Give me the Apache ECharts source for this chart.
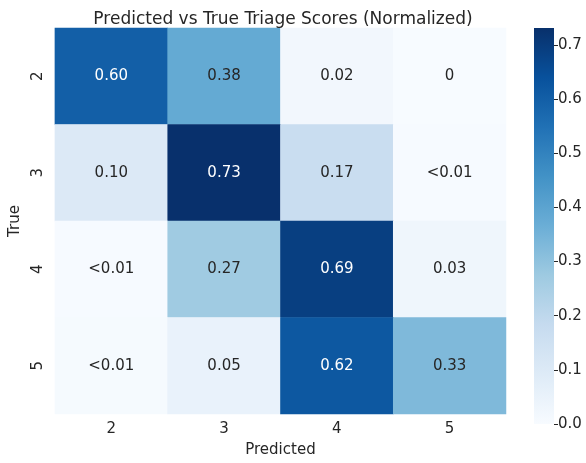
<!DOCTYPE html>
<html>
<head>
<meta charset="utf-8">
<script src="https://cdn.jsdelivr.net/npm/echarts@6/dist/echarts.min.js"></script>
<style>
html, body { margin: 0; padding: 0; background: #fff; }
#main { width: 586px; height: 463px; }
</style>
</head>
<body>
<div id="main"></div>
<script>
// categories
var predicted = ['2', '3', '4', '5'];
var trueScores = ['2', '3', '4', '5'];

// normalized rows (one per true score), columns = predicted score
var row2 = [0.60, 0.38, 0.02, 0];
var row3 = [0.10, 0.73, 0.17, 0.004];
var row4 = [0.004, 0.27, 0.69, 0.03];
var row5 = [0.006, 0.05, 0.62, 0.33];
var rows = [row2, row3, row4, row5];

// colorbar
var colorbarTicks = [0, 0.1, 0.2, 0.3, 0.4, 0.5, 0.6, 0.7];
var vmax = 0.731;

var blues = ['#f7fbff', '#deebf7', '#c6dbef', '#9ecae1', '#6baed6',
             '#4292c6', '#2171b5', '#08519c', '#08306b'];
var textColor = '#262626';
var font = 'DejaVu Sans';

var cells = [];
rows.forEach(function (row, r) {
    row.forEach(function (v, c) {
        cells.push([c, r, v]);
    });
});

function fmt(v) {
    if (v === 0) return '0';
    if (v < 0.01) return '<0.01';
    return v.toFixed(2);
}

var myChart = echarts.init(document.getElementById('main'));

var option = {
    animation: false,
    textStyle: { fontFamily: font },
    title: {
        text: 'Predicted vs True Triage Scores (Normalized)',
        left: 278,
        textAlign: 'center',
        top: 6,
        textStyle: { fontFamily: font, fontSize: 17, fontWeight: 'normal', color: textColor }
    },
    grid: [
        { left: 49, right: 80, top: 28, bottom: 39 },
        { left: 534, width: 20, top: 28, bottom: 39 }
    ],
    xAxis: [
        {
            type: 'category',
            gridIndex: 0,
            data: predicted,
            name: 'Predicted',
            nameLocation: 'middle',
            nameGap: 29,
            nameTextStyle: { fontFamily: font, fontSize: 15, color: textColor },
            axisLine: { show: false },
            axisTick: { show: false },
            axisLabel: { fontFamily: font, fontSize: 15, color: textColor, margin: 8 },
            splitLine: { show: false }
        },
        {
            type: 'category',
            gridIndex: 1,
            data: ['c'],
            show: false
        }
    ],
    yAxis: [
        {
            type: 'category',
            gridIndex: 0,
            data: trueScores,
            inverse: true,
            name: 'True',
            nameLocation: 'middle',
            nameGap: 28,
            nameRotate: 90,
            nameTextStyle: { fontFamily: font, fontSize: 15, color: textColor },
            axisLine: { show: false },
            axisTick: { show: false },
            axisLabel: { fontFamily: font, fontSize: 15, color: textColor, rotate: 90, margin: 9 },
            splitLine: { show: false }
        },
        {
            type: 'value',
            gridIndex: 1,
            min: 0,
            max: vmax,
            position: 'right',
            axisLine: { show: false },
            axisTick: {
                show: true,
                length: 4,
                customValues: colorbarTicks,
                lineStyle: { color: textColor, width: 1 }
            },
            axisLabel: {
                fontFamily: font,
                fontSize: 15,
                color: textColor,
                margin: 4,
                customValues: colorbarTicks,
                formatter: function (v) { return v.toFixed(1); }
            },
            splitLine: { show: false }
        }
    ],
    visualMap: {
        show: false,
        type: 'continuous',
        seriesIndex: 0,
        min: 0,
        max: vmax,
        inRange: { color: blues }
    },
    series: [
        {
            type: 'heatmap',
            xAxisIndex: 0,
            yAxisIndex: 0,
            data: cells,
            itemStyle: { borderWidth: 0 },
            label: {
                show: true,
                fontFamily: font,
                fontSize: 15,
                formatter: function (p) { return fmt(p.value[2]); }
            },
            emphasis: { disabled: true }
        },
        {
            type: 'bar',
            xAxisIndex: 1,
            yAxisIndex: 1,
            barWidth: '100%',
            data: [vmax],
            silent: true,
            itemStyle: {
                color: {
                    type: 'linear', x: 0, y: 1, x2: 0, y2: 0,
                    colorStops: blues.map(function (c, i) {
                        return { offset: i / (blues.length - 1), color: c };
                    })
                }
            }
        }
    ]
};

// dark cells get white text
option.series[0].data = cells.map(function (d) {
    return {
        value: d,
        label: { color: d[2] > 0.45 ? '#ffffff' : textColor }
    };
});

myChart.setOption(option);
</script>
</body>
</html>
